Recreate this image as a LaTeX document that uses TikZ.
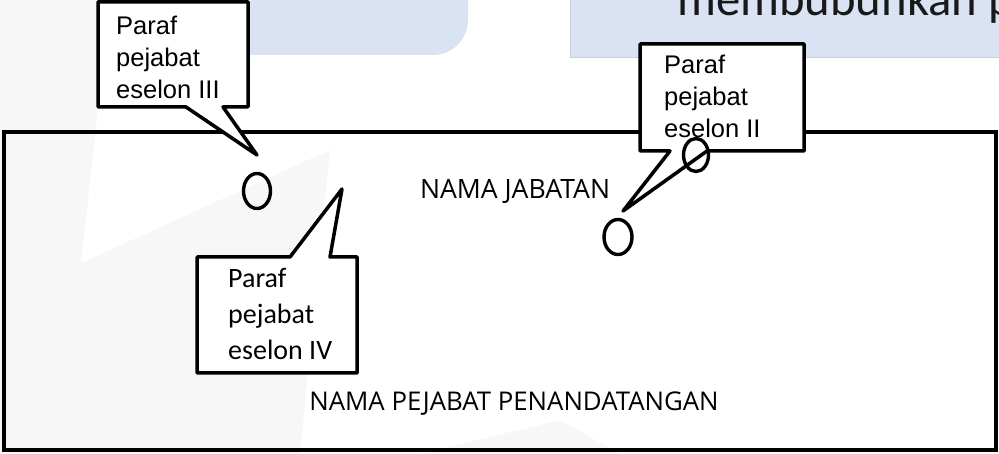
\documentclass[tikz,border=0pt]{standalone}
\usepackage{fontspec}
\usetikzlibrary{shapes.geometric}
\newfontfamily\arialf{Liberation Sans}
\newfontfamily\calf{Carlito}
\newfontfamily\opensf{Open Sans}
\definecolor{paleblue}{RGB}{218,227,243}
\definecolor{paleedge}{RGB}{200,208,224}
\definecolor{wmark}{RGB}{247,247,247}
\definecolor{titlecol}{RGB}{25,25,25}
\tikzset{
  callout/.style={draw=black, fill=white, line width=3.5pt, line join=round},
  calltext/.style={anchor=north west, inner sep=0pt, align=left},
  markO/.style={draw=black, ellipse, line width=3.4pt, inner sep=0pt},
  label/.style={anchor=base, inner sep=0pt, text=black},
}
\begin{document}
\begin{tikzpicture}[x=1pt, y=-1pt]
\useasboundingbox (0,0) rectangle (999,454);
\clip (0,0) rectangle (999,454);
% faint watermark
\fill[wmark] (0,0) -- (110,0) -- (60,454) -- (0,454) -- cycle;
\fill[wmark] (0,300) -- (330,150) -- (300,454) -- (0,454) -- cycle;
\fill[wmark] (420,454) -- (560,420) -- (620,454) -- cycle;
% blue title boxes
\fill[paleblue, rounded corners=35pt] (150,-40) rectangle (468,55);
\filldraw[fill=paleblue, draw=paleedge, line width=1pt] (570,-40) rectangle (1040,58);
\node[anchor=base west, inner sep=0pt, text=titlecol, font=\calf\fontsize{48.7}{58}\selectfont] (title) at (677,16) {membubuhkan p};
% main frame
\draw[line width=3.5pt] (4,132) rectangle (996,450);
\node[label, font=\opensf\fontsize{26.6}{30}\selectfont] (jab) at (515,199) {NAMA JABATAN};
\node[label, font=\opensf\fontsize{25.8}{30}\selectfont] (pej) at (514,410) {NAMA PEJABAT PENANDATANGAN};
% callout eselon III
\draw[callout] (98,2) -- (248,2) -- (248,107) -- (223,107) -- (257,155) -- (186,107) -- (98,107) -- cycle;
\node[calltext, font=\arialf\fontsize{25.5}{32}\selectfont] (t3) at (116,15.4) {Paraf\\pejabat\\eselon III};
% callout eselon II
\draw[callout] (640,44) -- (804,44) -- (804,151) -- (707,151) -- (623,211) -- (670,151) -- (640,151) -- cycle;
\node[calltext, font=\arialf\fontsize{25.5}{32}\selectfont] (t2) at (664,54.4) {Paraf\\pejabat\\eselon II};
% callout eselon IV
\draw[callout] (197,257) -- (290,257) -- (342,189) -- (330,257) -- (357,257) -- (357,373) -- (197,373) -- cycle;
\node[calltext, font=\calf\fontsize{28}{36}\selectfont] (t4) at (228,268.3) {Paraf\\pejabat\\eselon IV};
% paraf marks
\node[markO, minimum width=27pt, minimum height=35pt] (o1) at (257,191) {};
\node[markO, minimum width=25pt, minimum height=33pt] (o2) at (696,155) {};
\node[markO, minimum width=28pt, minimum height=35pt] (o3) at (618,237) {};
\end{tikzpicture}
\end{document}
